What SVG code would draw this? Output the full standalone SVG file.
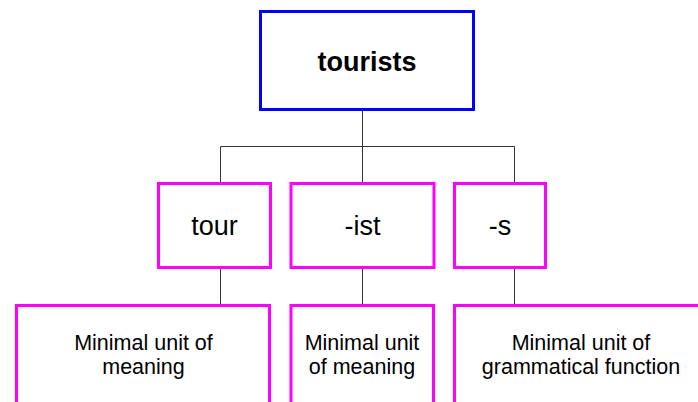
<svg xmlns="http://www.w3.org/2000/svg" width="698" height="402" viewBox="0 0 698 402">
  <style>
    .root { fill: #ffffff; stroke: #0000ff; stroke-width: 3; }
    .morph { fill: #ffffff; stroke: #ff00ff; stroke-width: 3; }
    .wire { fill: none; stroke: #333333; stroke-width: 1; }
    .label { font-family: "Liberation Sans", Arial, sans-serif; fill: #000000; text-anchor: middle; }
    .big { font-size: 27px; }
    .small { font-size: 21.5px; }
  </style>
  <rect width="698" height="402" fill="#ffffff"/>

  <g id="connectors">
    <path class="wire" d="M362.5,110 V146.5 M220.5,146.5 H514.5 M220.5,146.5 V183 M362.5,146.5 V183 M514.5,146.5 V183"/>
    <path class="wire" d="M220.5,268 V305 M362.5,268 V305 M514.5,268 V305"/>
  </g>

  <g id="node-tourists">
    <rect class="root" x="260.5" y="11.5" width="213" height="98"/>
    <text class="label big" x="367" y="71" font-weight="bold">tourists</text>
  </g>

  <g id="node-tour">
    <rect class="morph" x="158.5" y="183.5" width="112" height="84"/>
    <text class="label big" x="214.5" y="235">tour</text>
  </g>

  <g id="node-ist">
    <rect class="morph" x="291" y="183.5" width="143" height="84"/>
    <text class="label big" x="362.5" y="235">-ist</text>
  </g>

  <g id="node-s">
    <rect class="morph" x="454.5" y="183.5" width="91" height="84"/>
    <text class="label big" x="500" y="235">-s</text>
  </g>

  <g id="node-tour-desc">
    <rect class="morph" x="16.5" y="305.5" width="253" height="110"/>
    <text class="label small" x="143.5" y="350">Minimal unit of</text>
    <text class="label small" x="143.5" y="374">meaning</text>
  </g>

  <g id="node-ist-desc">
    <rect class="morph" x="291" y="305.5" width="142.5" height="110"/>
    <text class="label small" x="362" y="350">Minimal unit</text>
    <text class="label small" x="362" y="374">of meaning</text>
  </g>

  <g id="node-s-desc">
    <rect class="morph" x="454.5" y="305.5" width="260" height="110"/>
    <text class="label small" x="581" y="350">Minimal unit of</text>
    <text class="label small" x="581" y="374">grammatical function</text>
  </g>
</svg>
